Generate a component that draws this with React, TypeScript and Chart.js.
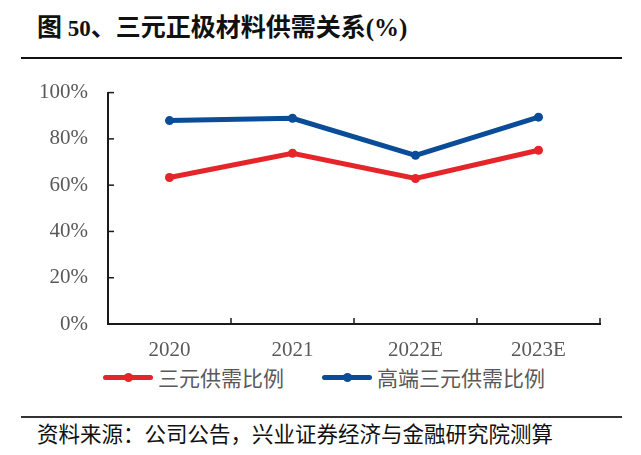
import React, { useEffect, useRef } from "react";
import { Chart, registerables } from "chart.js";

Chart.register(...registerables);

const categories = ["2020", "2021", "2022E", "2023E"];
const seriesNames = ["三元供需比例", "高端三元供需比例"];
const ternaryRatio = [63.3, 73.8, 62.9, 75.1];
const highEndRatio = [87.9, 88.9, 72.9, 89.4];
const yTicks = [0, 20, 40, 60, 80, 100];
const colors = ["#e4262a", "#0a4c97"];

const SERIF = '"Liberation Serif", "Times New Roman", "Noto Sans CJK SC", serif';
const CJK = '"Noto Sans CJK SC", "Liberation Serif", sans-serif';

const innerTicks = {
  id: "innerTicks",
  afterDatasetsDraw(chart: any) {
    const { ctx, chartArea, scales } = chart;
    const x = scales.x;
    const y = scales.y;
    ctx.save();
    ctx.strokeStyle = "#1a1a1a";
    ctx.lineWidth = 1.5;
    const line = (x1: number, y1: number, x2: number, y2: number) => {
      ctx.beginPath();
      ctx.moveTo(x1, y1);
      ctx.lineTo(x2, y2);
      ctx.stroke();
    };
    y.ticks.forEach((t: any) => {
      const py = y.getPixelForValue(t.value);
      line(chartArea.left, py, chartArea.left + 6, py);
    });
    const n = categories.length;
    for (let i = 0; i <= n; i++) {
      const px =
        i === 0
          ? chartArea.left
          : i === n
          ? chartArea.right
          : (x.getPixelForValue(i - 1) + x.getPixelForValue(i)) / 2;
      line(px, chartArea.bottom, px, chartArea.bottom - 6);
    }
    ctx.restore();
  },
};

function LegendItem({ color, label }: { color: string; label: string }) {
  return (
    <div style={{ display: "flex", alignItems: "center" }}>
      <div style={{ position: "relative", width: 50, height: 10, marginRight: 5 }}>
        <div
          style={{
            position: "absolute",
            left: 0,
            top: 2.5,
            width: 50,
            height: 5,
            background: color,
            borderRadius: 2.5,
          }}
        />
        <div
          style={{
            position: "absolute",
            left: 20.5,
            top: 0.5,
            width: 9,
            height: 9,
            borderRadius: "50%",
            background: color,
          }}
        />
      </div>
      <span style={{ fontFamily: CJK, fontSize: 21, color: "#595959", lineHeight: "26px" }}>{label}</span>
    </div>
  );
}

export default function App() {
  const canvasRef = useRef<HTMLCanvasElement | null>(null);

  useEffect(() => {
    if (!canvasRef.current) return;
    const chart = new Chart(canvasRef.current, {
      type: "line",
      data: {
        labels: categories,
        datasets: [
          {
            label: seriesNames[0],
            data: ternaryRatio,
            borderColor: colors[0],
            backgroundColor: colors[0],
            borderWidth: 5,
            pointRadius: 4.5,
            pointBackgroundColor: colors[0],
            pointBorderWidth: 0,
            tension: 0,
          },
          {
            label: seriesNames[1],
            data: highEndRatio,
            borderColor: colors[1],
            backgroundColor: colors[1],
            borderWidth: 5,
            pointRadius: 4.5,
            pointBackgroundColor: colors[1],
            pointBorderWidth: 0,
            tension: 0,
          },
        ],
      },
      options: {
        animation: false,
        responsive: false,
        maintainAspectRatio: false,
        layout: { padding: { left: 0, right: 41, top: 30, bottom: 0 } },
        plugins: { legend: { display: false }, tooltip: { enabled: false } },
        scales: {
          x: {
            type: "category",
            offset: true,
            grid: { display: false, drawTicks: false },
            border: { display: true, color: "#1a1a1a", width: 2 },
            ticks: {
              color: "#595959",
              font: { family: SERIF, size: 21 },
              padding: 14,
              maxRotation: 0,
            },
            afterFit: (scale: any) => {
              scale.height = 36;
            },
          },
          y: {
            min: 0,
            max: 100,
            afterBuildTicks: (scale: any) => {
              scale.ticks = yTicks.map((v) => ({ value: v }));
            },
            grid: { display: false, drawTicks: false },
            border: { display: true, color: "#1a1a1a", width: 2 },
            ticks: {
              color: "#595959",
              font: { family: SERIF, size: 21 },
              padding: 20,
              callback: (v: any) => `${v}%`,
            },
            afterFit: (scale: any) => {
              scale.width = 108;
            },
          },
        },
      },
      plugins: [innerTicks],
    });
    return () => chart.destroy();
  }, []);

  return (
    <div
      style={{
        position: "absolute",
        left: 0,
        top: 0,
        width: 641,
        height: 455,
        background: "#fff",
        overflow: "hidden",
      }}
    >
      <div
        style={{
          position: "absolute",
          left: 37,
          top: 9,
          lineHeight: "32px",
          whiteSpace: "nowrap",
          fontWeight: "bold",
          color: "#111",
        }}
      >
        <span style={{ fontFamily: CJK, fontSize: 25 }}>图</span>
        <span style={{ fontFamily: SERIF, fontSize: 23 }}> 50</span>
        <span style={{ fontFamily: CJK, fontSize: 25 }}>、三元正极材料供需关系</span>
        <span style={{ fontFamily: SERIF, fontSize: 25 }}>(%)</span>
      </div>
      <div style={{ position: "absolute", left: 21, top: 57, width: 601, height: 2, background: "#111" }} />
      <canvas
        ref={canvasRef}
        width={641}
        height={300}
        style={{ position: "absolute", left: 0, top: 60, width: 641, height: 300 }}
      />
      <div
        style={{
          position: "absolute",
          left: 103,
          top: 364,
          display: "flex",
          alignItems: "center",
          gap: 38,
        }}
      >
        <LegendItem color={colors[0]} label={seriesNames[0]} />
        <LegendItem color={colors[1]} label={seriesNames[1]} />
      </div>
      <div style={{ position: "absolute", left: 21, top: 416, width: 601, height: 2, background: "#333" }} />
      <div
        style={{
          position: "absolute",
          left: 37,
          top: 419,
          fontFamily: CJK,
          fontSize: 21.5,
          lineHeight: "27px",
          color: "#111",
          whiteSpace: "nowrap",
        }}
      >
        资料来源：公司公告，兴业证券经济与金融研究院测算
      </div>
    </div>
  );
}
